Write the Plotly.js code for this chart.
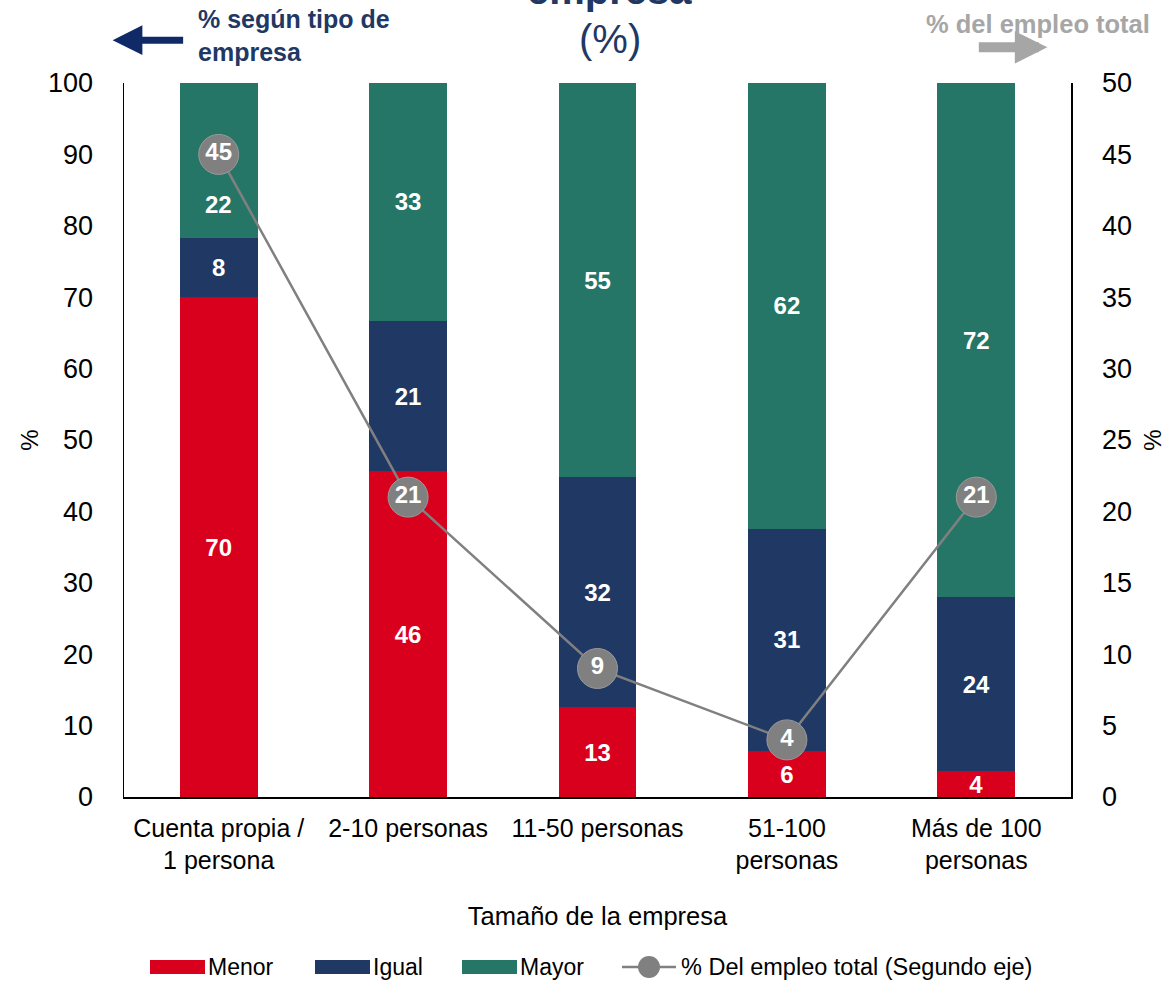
<!DOCTYPE html>
<html><head><meta charset="utf-8">
<script src="https://cdn.plot.ly/plotly-3.0.1.min.js"></script>
<style>html,body{margin:0;padding:0;background:#fff}#chart{width:1166px;height:981px}</style>
</head><body><div id="chart"></div>
<script>
const categories = ["Cuenta propia /<br>1 persona", "2-10 personas", "11-50 personas", "51-100<br>personas", "Más de 100<br>personas"];
const menor = [70.0, 45.6, 12.6, 6.4, 3.6];
const igual = [8.3, 21.1, 32.2, 31.2, 24.4];
const mayor = [21.7, 33.3, 55.2, 62.4, 72.0];
const empleoTotal = [45, 21, 9, 4, 21];
const yTicks = [0,10,20,30,40,50,60,70,80,90,100];
const y2Ticks = [0,5,10,15,20,25,30,35,40,45,50];

const FONT = "Liberation Sans, Arial, sans-serif";
const cRed = "#D9001E", cNavy = "#203864", cTeal = "#267667", cGray = "#808080";

function barTrace(name, vals, color, hideFirst) {
  return {
    type: "bar", name: name, x: categories, y: vals,
    marker: {color: color},
    text: vals.map((v, i) => (hideFirst && i === 0) ? "" : String(Math.round(v))),
    textposition: "inside", insidetextanchor: "middle", textangle: 0, constraintext: "none",
    insidetextfont: {family: FONT, size: 24, color: "#fff", weight: "bold"},
    hoverinfo: "skip", showlegend: false
  };
}

const traces = [
  barTrace("Menor", menor, cRed, false),
  barTrace("Igual", igual, cNavy, false),
  barTrace("Mayor", mayor, cTeal, true),
  {
    type: "scatter", mode: "lines+markers+text", name: "% Del empleo total (Segundo eje)",
    x: categories, y: empleoTotal, yaxis: "y2",
    line: {color: cGray, width: 2.5},
    marker: {color: cGray, size: 40, line: {color: "#9a9a9a", width: 1}},
    text: empleoTotal.map(v => String(v)), textposition: "middle center",
    textfont: {family: FONT, size: 24, color: "#fff", weight: "bold"},
    hoverinfo: "skip", showlegend: false, cliponaxis: false
  }
];

const annotations = [
  // relocated label for first Mayor segment
  {x: categories[0], y: menor[0] + igual[0], xref: "x", yref: "y", yshift: 33, showarrow: false,
   text: "<b>" + Math.round(mayor[0]) + "</b>", font: {family: FONT, size: 24, color: "#fff"}},
  // title (partially cut off at top, as in the reference)
  {xref: "paper", yref: "paper", x: 0.513, y: 1.13, yanchor: "middle", showarrow: false, text: "<b>empresa</b>",
   font: {family: FONT, size: 40, color: "#1F3864"}},
  {xref: "paper", yref: "paper", x: 0.513, y: 1.062, yanchor: "middle", showarrow: false, text: "(%)",
   font: {family: FONT, size: 40, color: "#1F3864"}},
  // left arrow note
  {xref: "paper", yref: "paper", x: 0.076, y: 1.067, xanchor: "left", yanchor: "middle", align: "left", showarrow: false,
   text: "<b>% según tipo de<br>empresa</b>", font: {family: FONT, size: 25, color: "#1F3864"}},
  {xref: "paper", yref: "paper", x: -0.012, y: 1.060, ax: 72, ay: 0, showarrow: true, text: "",
   arrowhead: 2, arrowsize: 0.85, arrowwidth: 7, arrowcolor: "#0F2A66"},
  // right arrow note
  {xref: "paper", yref: "paper", x: 1.0855, y: 1.083, xanchor: "right", yanchor: "middle", showarrow: false,
   text: "<b>% del empleo total</b>", font: {family: FONT, size: 25.5, color: "#A6A6A6"}},
  {xref: "paper", yref: "paper", x: 0.975, y: 1.050, ax: -70, ay: 0, showarrow: true, text: "",
   arrowhead: 2, arrowsize: 0.65, arrowwidth: 10, arrowcolor: "#A6A6A6"}
];

// manual legend
const legendItems = [
  {label: "Menor", color: cRed, x0: 150, tx: 206},
  {label: "Igual", color: cNavy, x0: 315, tx: 371},
  {label: "Mayor", color: cTeal, x0: 462, tx: 518}
];
const W = 1166, H = 981, ML = 124, MR = 95, MT = 83, MB = 184;
const pw = W - ML - MR, ph = H - MT - MB;
const px = x => (x - ML) / pw, py = y => (H - MB - y) / ph;
const legY = 967;
const shapes = [];
legendItems.forEach(it => {
  shapes.push({type: "rect", xref: "paper", yref: "paper", x0: px(it.x0), x1: px(it.x0 + 55), y0: py(legY + 7), y1: py(legY - 7),
    fillcolor: it.color, line: {width: 0}});
  annotations.push({xref: "paper", yref: "paper", x: px(it.tx), y: py(legY), xanchor: "left", yanchor: "middle",
    showarrow: false, text: it.label, font: {family: FONT, size: 23, color: "#000"}});
});
shapes.push({type: "line", xref: "paper", yref: "paper", x0: px(622), x1: px(676), y0: py(legY), y1: py(legY),
  line: {color: cGray, width: 2.5}});
shapes.push({type: "circle", xref: "paper", yref: "paper", x0: px(638), x1: px(660), y0: py(legY + 11), y1: py(legY - 11),
  fillcolor: cGray, line: {width: 0}});
annotations.push({xref: "paper", yref: "paper", x: px(679), y: py(legY), xanchor: "left", yanchor: "middle",
  showarrow: false, text: "% Del empleo total (Segundo eje)", font: {family: FONT, size: 23.5, color: "#000"}});

const layout = {
  width: W, height: H,
  margin: {l: ML, r: MR, t: MT, b: MB, pad: 0},
  paper_bgcolor: "#fff", plot_bgcolor: "#fff",
  font: {family: FONT, size: 24, color: "#000"},
  barmode: "stack", bargap: 0.59,
  showlegend: false,
  xaxis: {
    type: "category", showline: true, linecolor: "#000", linewidth: 1.5,
    ticks: "outside", ticklen: 8, tickcolor: "rgba(0,0,0,0)",
    showgrid: false, zeroline: false, tickfont: {family: FONT, size: 25, color: "#000"},
    title: {text: "Tamaño de la empresa", font: {family: FONT, size: 25.5, color: "#000"}, standoff: 34}
  },
  yaxis: {
    range: [0, 100], tickvals: yTicks, ticktext: yTicks.map(String),
    showline: true, linecolor: "#000", linewidth: 1.5,
    ticks: "outside", ticklen: 24, tickcolor: "rgba(0,0,0,0)",
    showgrid: false, zeroline: false, tickfont: {family: FONT, size: 27, color: "#000"},
    title: {text: "%", font: {family: FONT, size: 24, color: "#000"}, standoff: 2}
  },
  yaxis2: {
    range: [0, 50], tickvals: y2Ticks, ticktext: y2Ticks.map(String),
    overlaying: "y", side: "right",
    showline: true, linecolor: "#000", linewidth: 1.5,
    ticks: "outside", ticklen: 24, tickcolor: "rgba(0,0,0,0)",
    showgrid: false, zeroline: false, tickfont: {family: FONT, size: 27, color: "#000"},
    title: {text: "%", font: {family: FONT, size: 24, color: "#000"}, standoff: 19}
  },
  annotations: annotations,
  shapes: shapes
};

Plotly.newPlot("chart", traces, layout, {displayModeBar: false, staticPlot: true});
</script></body></html>
